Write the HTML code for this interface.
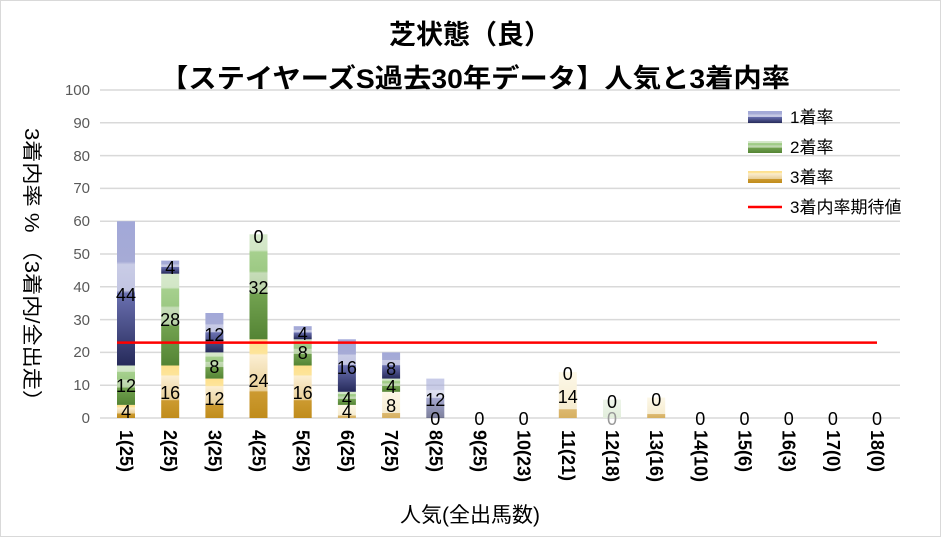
<!DOCTYPE html>
<html><head><meta charset="utf-8"><style>
body{margin:0;background:#fff}
svg{display:block;font-family:"Liberation Sans","Noto Sans CJK JP",sans-serif}
</style></head><body>
<svg width="941" height="537" viewBox="0 0 941 537" xmlns="http://www.w3.org/2000/svg">
<defs>
<linearGradient id="b" x1="0" y1="0" x2="0" y2="1">
<stop offset="0" stop-color="#a2a8d8"/><stop offset="0.28" stop-color="#a6abd6"/><stop offset="0.3" stop-color="#c9cce6"/><stop offset="0.48" stop-color="#c2c5e2"/><stop offset="0.5" stop-color="#6a70b0"/><stop offset="1" stop-color="#262a5a"/></linearGradient>
<linearGradient id="g" x1="0" y1="0" x2="0" y2="1">
<stop offset="0" stop-color="#d6e9cc"/><stop offset="0.15" stop-color="#d2e6c6"/><stop offset="0.17" stop-color="#a6d08e"/><stop offset="0.35" stop-color="#9dc984"/><stop offset="0.37" stop-color="#c6dcb8"/><stop offset="0.55" stop-color="#b8d2a6"/><stop offset="0.57" stop-color="#72a250"/><stop offset="1" stop-color="#548434"/></linearGradient>
<linearGradient id="y" x1="0" y1="0" x2="0" y2="1">
<stop offset="0" stop-color="#ffe08c"/><stop offset="0.18" stop-color="#fde49a"/><stop offset="0.2" stop-color="#fcefd2"/><stop offset="0.65" stop-color="#e8cf98"/><stop offset="0.67" stop-color="#cc9a30"/><stop offset="1" stop-color="#c08c1c"/></linearGradient>
<linearGradient id="l" x1="0" y1="0" x2="0" y2="1">
<stop offset="0" stop-color="#fdf8e8"/><stop offset="0.8" stop-color="#f6ecd0"/><stop offset="0.82" stop-color="#dcb870"/><stop offset="1" stop-color="#d6b060"/></linearGradient>
<linearGradient id="lg" x1="0" y1="0" x2="0" y2="1">
<stop offset="0" stop-color="#eef5ea"/><stop offset="1" stop-color="#e2eedc"/></linearGradient>
</defs>
<rect x="0.5" y="0.5" width="940" height="536" fill="#fff" stroke="#d9d9d9"/>
<text x="470" y="44" font-size="27" font-weight="bold" text-anchor="middle" fill="#000">芝状態（良）</text>
<text x="475" y="88" font-size="27" font-weight="bold" text-anchor="middle" fill="#000" textLength="630" lengthAdjust="spacingAndGlyphs">【ステイヤーズS過去30年データ】人気と3着内率</text>
<g stroke="#d9d9d9" stroke-width="1.5">
<line x1="100" x2="900" y1="418" y2="418"/><line x1="100" x2="900" y1="385.2" y2="385.2"/><line x1="100" x2="900" y1="352.4" y2="352.4"/><line x1="100" x2="900" y1="319.6" y2="319.6"/><line x1="100" x2="900" y1="286.8" y2="286.8"/><line x1="100" x2="900" y1="254" y2="254"/><line x1="100" x2="900" y1="221.2" y2="221.2"/><line x1="100" x2="900" y1="188.4" y2="188.4"/><line x1="100" x2="900" y1="155.6" y2="155.6"/><line x1="100" x2="900" y1="122.8" y2="122.8"/><line x1="100" x2="900" y1="90" y2="90"/>
</g>
<g font-size="15" fill="#595959" text-anchor="end">
<text x="90" y="423">0</text><text x="90" y="390">10</text><text x="90" y="357">20</text><text x="90" y="325">30</text><text x="90" y="292">40</text><text x="90" y="259">50</text><text x="90" y="226">60</text><text x="90" y="193">70</text><text x="90" y="161">80</text><text x="90" y="128">90</text><text x="90" y="95">100</text>
</g>
<g>
<rect x="117" y="404.9" width="18" height="13.1" fill="url(#y)"/><rect x="117" y="365.5" width="18" height="39.4" fill="url(#g)"/><rect x="117" y="221.2" width="18" height="144.3" fill="url(#b)"/>
<rect x="161.2" y="365.5" width="18" height="52.5" fill="url(#y)"/><rect x="161.2" y="273.7" width="18" height="91.8" fill="url(#g)"/><rect x="161.2" y="260.6" width="18" height="13.1" fill="url(#b)"/>
<rect x="205.4" y="378.6" width="18" height="39.4" fill="url(#y)"/><rect x="205.4" y="352.4" width="18" height="26.2" fill="url(#g)"/><rect x="205.4" y="313" width="18" height="39.4" fill="url(#b)"/>
<rect x="249.5" y="339.3" width="18" height="78.7" fill="url(#y)"/><rect x="249.5" y="234.3" width="18" height="105" fill="url(#g)"/>
<rect x="293.7" y="365.5" width="18" height="52.5" fill="url(#y)"/><rect x="293.7" y="339.3" width="18" height="26.2" fill="url(#g)"/><rect x="293.7" y="326.2" width="18" height="13.1" fill="url(#b)"/>
<rect x="337.9" y="404.9" width="18" height="13.1" fill="url(#l)"/><rect x="337.9" y="391.8" width="18" height="13.1" fill="url(#g)"/><rect x="337.9" y="339.3" width="18" height="52.5" fill="url(#b)"/>
<rect x="382.1" y="391.8" width="18" height="26.2" fill="url(#l)"/><rect x="382.1" y="378.6" width="18" height="13.2" fill="url(#g)"/><rect x="382.1" y="352.4" width="18" height="26.2" fill="url(#b)"/>
<rect x="426.3" y="378.6" width="18" height="39.4" fill="url(#b)" opacity="0.6"/>
<rect x="558.8" y="372.1" width="18" height="45.9" fill="url(#l)"/>
<rect x="603" y="399.6" width="18" height="18.4" fill="url(#lg)"/>
<rect x="647.2" y="397.5" width="18" height="20.5" fill="url(#l)"/>
</g>
<line x1="117" x2="877" y1="342.6" y2="342.6" stroke="#ff0000" stroke-width="2.5"/>
<g font-size="18" fill="#000" text-anchor="middle">
<text x="126" y="418">4</text><text x="126" y="392">12</text><text x="126" y="301">44</text>
<text x="170.2" y="399">16</text><text x="170.2" y="326">28</text><text x="170.2" y="274">4</text>
<text x="214.4" y="405">12</text><text x="214.4" y="373">8</text><text x="214.4" y="341">12</text>
<text x="258.5" y="387">24</text><text x="258.5" y="294">32</text><text x="258.5" y="243">0</text>
<text x="302.7" y="399">16</text><text x="302.7" y="359">8</text><text x="302.7" y="340">4</text>
<text x="346.9" y="418">4</text><text x="346.9" y="405">4</text><text x="346.9" y="374">16</text>
<text x="391.1" y="412">8</text><text x="391.1" y="393">4</text><text x="391.1" y="375">8</text>
<text x="435.3" y="406">12</text><text x="435.3" y="425">0</text>
<text x="479.4" y="425">0</text><text x="523.6" y="425">0</text>
<text x="567.8" y="403">14</text><text x="567.8" y="380">0</text>
<text x="612" y="408">0</text><text x="612" y="425" fill="#999">0</text>
<text x="656.2" y="406">0</text>
<text x="700.3" y="425">0</text><text x="744.5" y="425">0</text><text x="788.7" y="425">0</text><text x="832.9" y="425">0</text><text x="877" y="425">0</text>
</g>
<g font-size="18" font-weight="bold" fill="#000">
<text transform="translate(120,430) rotate(90)">1(25)</text>
<text transform="translate(164.2,430) rotate(90)">2(25)</text>
<text transform="translate(208.4,430) rotate(90)">3(25)</text>
<text transform="translate(252.5,430) rotate(90)">4(25)</text>
<text transform="translate(296.7,430) rotate(90)">5(25)</text>
<text transform="translate(340.9,430) rotate(90)">6(25)</text>
<text transform="translate(385.1,430) rotate(90)">7(25)</text>
<text transform="translate(429.3,430) rotate(90)">8(25)</text>
<text transform="translate(473.4,430) rotate(90)">9(25)</text>
<text transform="translate(517.6,430) rotate(90)">10(23)</text>
<text transform="translate(561.8,430) rotate(90)">11(21)</text>
<text transform="translate(606,430) rotate(90)">12(18)</text>
<text transform="translate(650.2,430) rotate(90)">13(16)</text>
<text transform="translate(694.3,430) rotate(90)">14(10)</text>
<text transform="translate(738.5,430) rotate(90)">15(6)</text>
<text transform="translate(782.7,430) rotate(90)">16(3)</text>
<text transform="translate(826.9,430) rotate(90)">17(0)</text>
<text transform="translate(871,430) rotate(90)">18(0)</text>
</g>
<text x="470" y="522" font-size="21" text-anchor="middle" fill="#000">人気(全出馬数)</text>
<text transform="translate(25,128) rotate(90)" font-size="20" fill="#000" textLength="284" lengthAdjust="spacingAndGlyphs">3着内率 % （3着内/全出走）</text>
<g font-size="17" fill="#000">
<rect x="748" y="111" width="34" height="12" fill="url(#b)"/><text x="790" y="123">1着率</text>
<rect x="748" y="141" width="34" height="12" fill="url(#g)"/><text x="790" y="153">2着率</text>
<rect x="748" y="171" width="34" height="12" fill="url(#y)"/><text x="790" y="183">3着率</text>
<line x1="748" x2="782" y1="207" y2="207" stroke="#ff0000" stroke-width="2.5"/><text x="790" y="213">3着内率期待値</text>
</g>
</svg>
</body></html>
